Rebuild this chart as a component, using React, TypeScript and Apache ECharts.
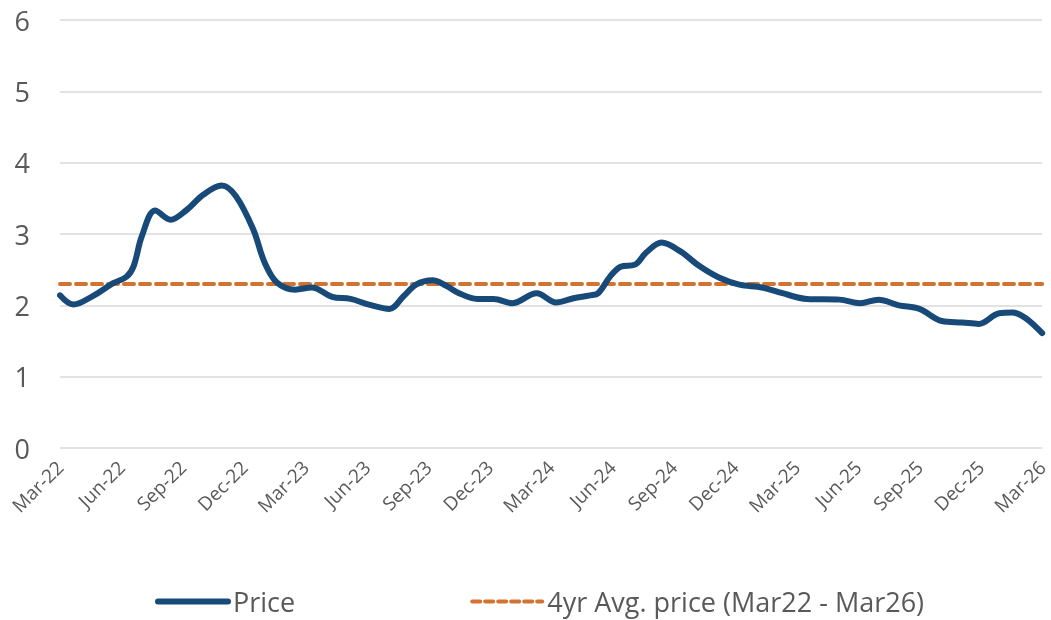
import React, { useEffect, useRef } from "react";
import * as echarts from "echarts";

const tickLabels = [
  "Mar-22", "Jun-22", "Sep-22", "Dec-22",
  "Mar-23", "Jun-23", "Sep-23", "Dec-23",
  "Mar-24", "Jun-24", "Sep-24", "Dec-24",
  "Mar-25", "Jun-25", "Sep-25", "Dec-25",
  "Mar-26",
];

// months since Mar-22
const priceMonths = [
  0, 0.65, 1.6, 2.6, 3.25, 3.6, 4.0, 4.65, 5.4, 6.2, 7.0, 7.9, 8.6, 9.45, 10.0,
  10.6, 11.5, 12.3, 13.3, 14.2, 15.1, 16.1, 16.8, 17.4, 18.2, 18.9, 19.5, 20.4,
  21.2, 22.1, 23.3, 24.25, 25.1, 25.9, 26.3, 26.9, 27.4, 28.1, 28.65, 29.4, 30.3,
  31.25, 32.2, 33.2, 34.3, 35.3, 36.5, 38.1, 39.1, 40.0, 41.0, 42.0, 43.1, 44.1,
  44.9, 45.9, 46.55, 47.2, 48,
];
const priceValues = [
  2.14, 2.01, 2.13, 2.31, 2.4, 2.55, 2.97, 3.33, 3.2, 3.34, 3.55, 3.68, 3.53,
  3.06, 2.6, 2.32, 2.22, 2.25, 2.12, 2.09, 2.01, 1.95, 2.13, 2.29, 2.35, 2.27,
  2.17, 2.09, 2.09, 2.03, 2.17, 2.04, 2.1, 2.14, 2.17, 2.41, 2.54, 2.57, 2.74,
  2.88, 2.76, 2.55, 2.39, 2.29, 2.25, 2.17, 2.09, 2.08, 2.03, 2.08, 2.0, 1.95,
  1.78, 1.76, 1.74, 1.89, 1.9, 1.82, 1.61,
];
const avgPrice = 2.3;
const avgMonths = [0, 48];

const seriesNames = ["Price", "4yr Avg. price (Mar22 - Mar26)"];

export default function App() {
  const ref = useRef<HTMLDivElement>(null);
  useEffect(() => {
    if (!ref.current) return;
    const chart = echarts.init(ref.current, null, { renderer: "svg" });
    const font = "'Open Sans', sans-serif";
    const blue = "#174A78";
    const orange = "#D4722F";
    chart.setOption({
      animation: false,
      textStyle: { fontFamily: font, color: "#595959" },
      grid: { left: 60, right: 5, top: 20, bottom: 172, containLabel: false },
      legend: {
        bottom: 0,
        left: 150,
        itemWidth: 70,
        itemHeight: 14,
        itemGap: 175,
        itemStyle: { opacity: 0 },
        textStyle: { fontFamily: font, fontSize: 27, color: "#595959" },
        data: [
          {
            name: seriesNames[0],
            lineStyle: { width: 6, color: blue, cap: "round" },
          },
          {
            name: seriesNames[1],
            lineStyle: { width: 4, color: orange, type: [8, 5], cap: "round" },
          },
        ],
      },
      xAxis: {
        type: "value",
        min: 0,
        max: 48,
        interval: 3,
        axisLine: { show: false },
        axisTick: { show: false },
        splitLine: { show: false },
        axisLabel: {
          rotate: 45,
          margin: 16,
          fontFamily: font,
          fontSize: 19,
          color: "#595959",
          formatter: (v: number) => tickLabels[Math.round(v / 3)] ?? "",
        },
      },
      yAxis: {
        type: "value",
        min: 0,
        max: 6,
        interval: 1,
        axisLine: { show: false },
        axisTick: { show: false },
        splitLine: { lineStyle: { color: "#D9D9D9", width: 1.5 } },
        axisLabel: {
          margin: 30,
          fontFamily: font,
          fontSize: 27,
          color: "#595959",
        },
      },
      series: [
        {
          name: seriesNames[0],
          type: "line",
          data: priceMonths.map((m, i) => [m, priceValues[i]]),
          smooth: 0.35,
          symbol: "none",
          color: blue,
          lineStyle: { width: 6, color: blue, cap: "round", join: "round" },
          z: 3,
        },
        {
          name: seriesNames[1],
          type: "line",
          data: avgMonths.map((m) => [m, avgPrice]),
          symbol: "none",
          color: orange,
          lineStyle: { width: 4, color: orange, type: [10, 6], cap: "round" },
          z: 2,
        },
      ],
    });
    return () => chart.dispose();
  }, []);
  return (
    <div
      ref={ref}
      style={{ position: "fixed", left: 0, top: 0, width: 1051, height: 620 }}
    />
  );
}
